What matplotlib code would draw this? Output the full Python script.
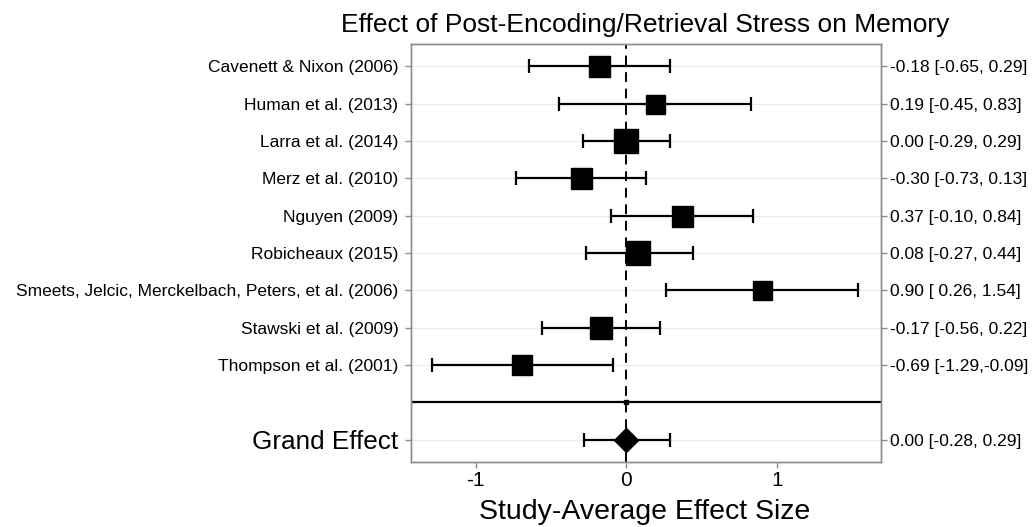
import matplotlib
matplotlib.use("Agg")
import matplotlib.pyplot as plt

plt.rcParams['font.family'] = ['Liberation Sans', 'DejaVu Sans']

studies = ["Cavenett & Nixon (2006)", "Human et al. (2013)", "Larra et al. (2014)",
           "Merz et al. (2010)", "Nguyen (2009)", "Robicheaux (2015)",
           "Smeets, Jelcic, Merckelbach, Peters, et al. (2006)", "Stawski et al. (2009)",
           "Thompson et al. (2001)"]
effects = [-0.18, 0.19, 0.00, -0.30, 0.37, 0.08, 0.90, -0.17, -0.69]
lower = [-0.65, -0.45, -0.29, -0.73, -0.10, -0.27, 0.26, -0.56, -1.29]
upper = [0.29, 0.83, 0.29, 0.13, 0.84, 0.44, 1.54, 0.22, -0.09]
weights = [21, 19, 24, 21, 21, 24, 19, 22, 20]  # relative marker sizes (px)

grand_label = "Grand Effect"
grand_effect = 0.00
grand_lower = -0.28
grand_upper = 0.29

xticks = [-1, 0, 1]

W, H = 1032, 527
fig = plt.figure(figsize=(W / 100, H / 100), dpi=100)
ax = fig.add_axes([411 / W, 1 - 462 / H, (881 - 411) / W, (462 - 44) / H])

n = len(studies)
ypos = [n + 1 - i for i in range(n)]  # 10 .. 2
grid_c = '#ebebeb'
for y in ypos + [0]:
    ax.axhline(y, color=grid_c, lw=0.8, zorder=0)

ax.axvline(0, color='black', lw=1.4, ls=(0, (5, 3.5)), zorder=1)
ax.axhline(1, color='black', lw=1.6, zorder=1)
ax.plot([0], [1], 's', color='black', ms=3, zorder=2)

lw = 1.6
for y, m, lo, hi, w in zip(ypos, effects, lower, upper, weights):
    ax.errorbar(m, y, xerr=[[m - lo], [hi - m]], fmt='none', ecolor='black',
                elinewidth=lw, capsize=4.7, capthick=lw, zorder=3)
    ax.plot(m, y, 's', color='black', ms=w * 0.72, zorder=4)

ax.errorbar(grand_effect, 0, xerr=[[grand_effect - grand_lower], [grand_upper - grand_effect]],
            fmt='none', ecolor='black', elinewidth=lw, capsize=4.7, capthick=lw, zorder=3)
ax.plot(grand_effect, 0, 'D', color='black', ms=12.5, zorder=4)

ax.set_xlim(-1.43, 1.69)
ax.set_ylim(-0.6, 10.6)
ax.set_xticks(xticks)
ax.set_xticklabels([str(t) for t in xticks], fontsize=15)

ax.set_yticks(ypos + [0])
ax.set_yticklabels(studies + [grand_label])
for lbl in ax.get_yticklabels():
    lbl.set_fontsize(12.5)
ax.get_yticklabels()[-1].set_fontsize(18.8)

ax2 = ax.twinx()
ax2.set_ylim(ax.get_ylim())
right_labels = [f"{m:.2f} [{lo:5.2f},{hi:5.2f}]" for m, lo, hi in zip(effects, lower, upper)]
right_labels.append(f"{grand_effect:.2f} [{grand_lower:5.2f},{grand_upper:5.2f}]")
ax2.set_yticks(ypos + [0])
ax2.set_yticklabels(right_labels, fontsize=12.5)

frame_c = '#8c8c8c'
for a in (ax, ax2):
    for s in a.spines.values():
        s.set_color(frame_c)
        s.set_linewidth(1.0)
    a.tick_params(colors=frame_c, length=4, width=1, labelcolor='black', pad=2.5)
ax.tick_params(axis='y', pad=5)

fig.text(645 / W, 1 - 519 / H, "Study-Average Effect Size",
         ha='center', va='baseline', fontsize=20.5)
fig.text(645 / W, 1 - 32 / H, "Effect of Post-Encoding/Retrieval Stress on Memory",
         ha='center', va='baseline', fontsize=19)

fig.savefig("out.png", dpi=100)
